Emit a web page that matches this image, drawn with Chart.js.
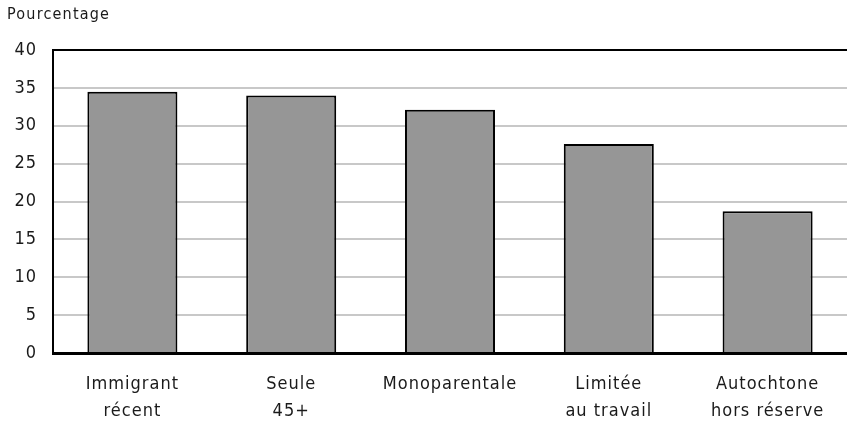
<!DOCTYPE html>
<html>
<head>
<meta charset="utf-8">
<script src="https://cdn.jsdelivr.net/npm/chart.js@4"></script>
<style>
  html, body { margin: 0; padding: 0; background: #fff; }
  #wrap { width: 847px; height: 422px; }
</style>
</head>
<body>
<div id="wrap"><canvas id="barChart" width="847" height="422"></canvas></div>
<script>
const categories = [
  ["Immigrant", "récent"],
  ["Seule", "45+"],
  ["Monoparentale"],
  ["Limitée", "au travail"],
  ["Autochtone", "hors réserve"]
];
const values = [34.5, 34.0, 32.1, 27.6, 18.7];
const yTicks = [0, 5, 10, 15, 20, 25, 30, 35, 40];
const yAxisTitle = "Pourcentage";

const fontFamily = "'Liberation Sans Narrow', 'DejaVu Sans Condensed', 'Liberation Sans', sans-serif";

// wider letter spacing like the original typeface
const spacing = {
  id: "spacing",
  beforeInit(chart) { chart.ctx.letterSpacing = "1px"; },
  beforeDraw(chart) { chart.ctx.letterSpacing = "1px"; }
};

// label above the y axis, top-left
const cornerTitle = {
  id: "cornerTitle",
  afterDraw(chart) {
    const c = chart.ctx;
    c.save();
    c.letterSpacing = "1.2px";
    c.font = "16px " + fontFamily;
    c.fillStyle = "#1a1a1a";
    c.textBaseline = "middle";
    c.fillText(yAxisTitle, 7, 15);
    c.restore();
  }
};

const ctx = document.getElementById("barChart");

new Chart(ctx, {
  type: "bar",
  data: {
    labels: categories,
    datasets: [
      {
        data: values,
        backgroundColor: "#969696",
        borderColor: "#000",
        borderWidth: 2,
        barPercentage: 0.567,
        categoryPercentage: 1
      }
    ]
  },
  options: {
    responsive: false,
    animation: false,
    layout: { padding: { top: 50, right: 0, left: 0, bottom: 0 } },
    plugins: {
      legend: { display: false },
      tooltip: { enabled: false }
    },
    scales: {
      x: {
        grid: { display: false, drawTicks: false },
        border: { color: "#000", width: 3 },
        ticks: {
          color: "#1a1a1a",
          padding: 18,
          maxRotation: 0,
          autoSkip: false,
          font: { family: fontFamily, size: 18, lineHeight: 1.5 }
        },
        afterFit(axis) { axis.height = 69; }
      },
      y: {
        min: 0,
        max: 40,
        afterBuildTicks(axis) { axis.ticks = yTicks.map((v) => ({ value: v })); },
        grid: {
          drawTicks: false,
          color: (c) => (c.tick && c.tick.value === 40 ? "#000" : "#c8c8c8"),
          lineWidth: 2
        },
        border: { color: "#000", width: 2 },
        ticks: {
          color: "#1a1a1a",
          padding: 16,
          font: { family: fontFamily, size: 18 }
        },
        afterFit(axis) { axis.width = 53; }
      }
    }
  },
  plugins: [spacing, cornerTitle]
});
</script>
</body>
</html>
